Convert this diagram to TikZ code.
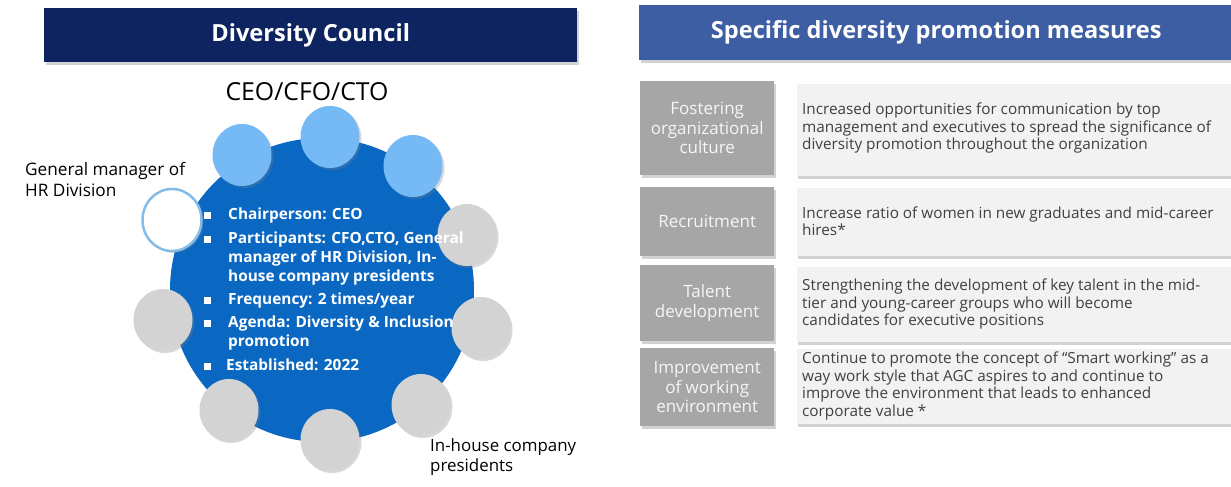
\documentclass[tikz,border=0pt]{standalone}
\usepackage{fontspec}
\setmainfont{Open Sans}
\usetikzlibrary{shadows,shapes.geometric}
\definecolor{navy}{RGB}{14,36,96}
\definecolor{hblue}{RGB}{62,94,164}
\definecolor{bigblue}{RGB}{10,104,194}
\definecolor{lblue}{RGB}{118,186,245}
\definecolor{cgray}{RGB}{211,211,211}
\definecolor{lgray}{RGB}{166,166,166}
\definecolor{tbox}{RGB}{242,242,242}
\definecolor{ctext}{RGB}{246,246,246}
\definecolor{ttext}{RGB}{64,64,64}
\definecolor{wring}{RGB}{130,188,232}
\begin{document}
\begin{tikzpicture}[x=1pt,y=-1pt,
  hdr/.style={anchor=north west, inner sep=0pt, text=white, font=\fontsize{23.6}{27}\selectfont\bfseries,
    drop shadow={opacity=0.35, shadow xshift=2pt, shadow yshift=-3pt}},
  seat/.style={ellipse, minimum width=59pt, minimum height=62pt, inner sep=0pt,
    drop shadow={opacity=0.3, shadow xshift=2pt, shadow yshift=-2pt}},
  lbl/.style={align=left, anchor=west, inner sep=0pt, text=black, font=\fontsize{17.2}{21}\selectfont},
  bul/.style={fill=white, minimum size=7pt, inner sep=0pt},
  bline/.style={anchor=west, inner sep=0pt, text=white, text height=11pt, text depth=3pt,
    font=\fontsize{15.4}{19}\selectfont\bfseries},
  catbox/.style={anchor=north west, fill=lgray, minimum width=134pt, inner sep=0pt, align=center,
    text=ctext, font=\fontsize{17}{19.5}\selectfont,
    drop shadow={opacity=0.35, shadow xshift=2pt, shadow yshift=-3pt}},
  descbox/.style={anchor=north west, fill=tbox, minimum width=440pt, inner sep=0pt,
    drop shadow={opacity=0.35, shadow xshift=1pt, shadow yshift=-3pt}},
  desc/.style={anchor=west, align=left, inner sep=0pt, text=ttext, font=\fontsize{15.3}{17.5}\selectfont}]
\useasboundingbox (0,0) rectangle (1231,487);
\fill[white] (0,0) rectangle (1231,487);

% headers
\node[hdr, fill=navy, minimum width=533pt, minimum height=54pt] (lh) at (44,8) {Diversity Council};
\node[hdr, fill=hblue, minimum width=594pt, minimum height=55pt] (rh) at (639,5) {Specific diversity promotion measures};

% council circle
\node[circle, fill=bigblue, minimum size=304pt, inner sep=0pt] (council) at (322,290) {};

% seats
\node[seat, fill=lblue] (s1) at (242,155) {};
\node[seat, fill=lblue] (s2) at (330,137) {};
\node[seat, fill=lblue] (s3) at (413,166) {};
\node[seat, fill=white, draw=wring, line width=2.5pt] (s4) at (172,220) {};
\node[seat, fill=cgray] (s5) at (467,235) {};
\node[seat, fill=cgray] (s6) at (163,320) {};
\node[seat, fill=cgray] (s7) at (481,328) {};
\node[seat, fill=cgray] (s8) at (229,410) {};
\node[seat, fill=cgray] (s9) at (330,440) {};
\node[seat, fill=cgray] (s10) at (421,405) {};

% labels
\node[inner sep=0pt, font=\fontsize{24.8}{28}\selectfont] (top) at (307,92) {CEO/CFO/CTO};
\node[lbl] (gm) at (25,180) {General manager of\\HR Division};
\node[lbl, font=\fontsize{16.9}{20.5}\selectfont] (ih) at (430,457) {In-house company\\presidents};

% bullets
\node[bul] (b1) at (207,215) {};
\node[bul] (b2) at (207,239) {};
\node[bul] (b3) at (207,300) {};
\node[bul] (b4) at (207,323) {};
\node[bul] (b5) at (207,366) {};
\node[bline] (t1) at (228,215) {Chairperson: CEO};
\node[bline] (t2) at (228,239) {Participants: CFO,CTO, General};
\node[bline] (t2b) at (228,258) {manager of HR Division, In-};
\node[bline] (t2c) at (228,277) {house company presidents};
\node[bline] (t3) at (228,300) {Frequency: 2 times/year};
\node[bline] (t4) at (228,323) {Agenda: Diversity \& Inclusion};
\node[bline] (t4b) at (228,342) {promotion};
\node[bline] (t5) at (226,366) {Established: 2022};

% rows
\node[catbox, minimum height=94pt] (c1) at (640,81) {Fostering\\organizational\\culture};
\node[descbox, minimum height=92pt] (d1) at (797,84) {};
\node[desc] (e1) at (802,128) {Increased opportunities for communication by top\\management and executives to spread the significance of\\diversity promotion throughout the organization};

\node[catbox, minimum height=69pt] (c2) at (640,187) {Recruitment};
\node[descbox, minimum height=68pt] (d2) at (797,188) {};
\node[desc] (e2) at (802,221) {Increase ratio of women in new graduates and mid-career\\hires*};

\node[catbox, minimum height=76pt] (c3) at (640,265) {Talent\\development};
\node[descbox, minimum height=75pt] (d3) at (797,267) {};
\node[desc] (e3) at (802,304) {Strengthening the development of key talent in the mid-\\tier and young-career groups who will become\\candidates for executive positions};

\node[catbox, minimum height=78pt] (c4) at (640,348) {Improvement\\of working\\environment};
\node[descbox, minimum height=75pt] (d4) at (797,349) {};
\node[desc] (e4) at (802,386) {Continue to promote the concept of “Smart working” as a\\way work style that AGC aspires to and continue to\\improve the environment that leads to enhanced\\corporate value *};
\end{tikzpicture}
\end{document}
